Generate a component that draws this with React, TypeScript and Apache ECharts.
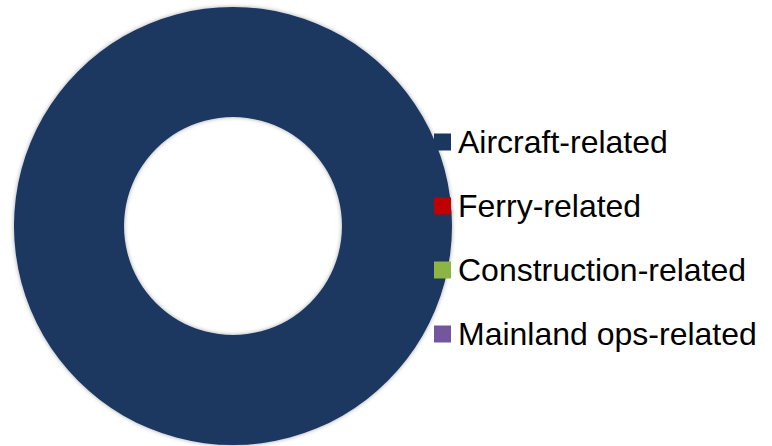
import React, { useEffect, useRef } from "react";
import * as echarts from "echarts";

const categories = ["Aircraft-related", "Ferry-related", "Construction-related", "Mainland ops-related"];
const values = [100, 0, 0, 0];
const colors = ["#1A3760", "#C00000", "#8DB543", "#7456A0"];

export default function App() {
  const ref = useRef<HTMLDivElement>(null);
  useEffect(() => {
    if (!ref.current) return;
    const chart = echarts.init(ref.current, undefined, { renderer: "svg" });
    chart.setOption({
      animation: false,
      backgroundColor: "#ffffff",
      color: colors,
      legend: {
        orient: "vertical",
        left: 429,
        top: 121,
        itemWidth: 17,
        itemHeight: 17,
        itemGap: 32,
        icon: "rect",
        selectedMode: false,
        data: categories,
        textStyle: {
          fontFamily: "Liberation Sans, Arial, sans-serif",
          fontSize: 32,
          lineHeight: 31,
          color: "#000000",
          padding: [0, 0, 0, 2],
        },
      },
      series: [
        {
          type: "pie",
          center: [233, 226],
          radius: [109, 219],
          startAngle: 90,
          label: { show: false },
          labelLine: { show: false },
          emphasis: { disabled: true },
          itemStyle: {
            shadowBlur: 4,
            shadowColor: "rgba(0,0,0,0.35)",
          },
          data: categories.map((name, i) => ({ name, value: values[i] })),
        },
      ],
    });
    return () => chart.dispose();
  }, []);
  return (
    <div
      ref={ref}
      style={{ position: "fixed", left: 0, top: 0, width: 772, height: 446 }}
    />
  );
}
